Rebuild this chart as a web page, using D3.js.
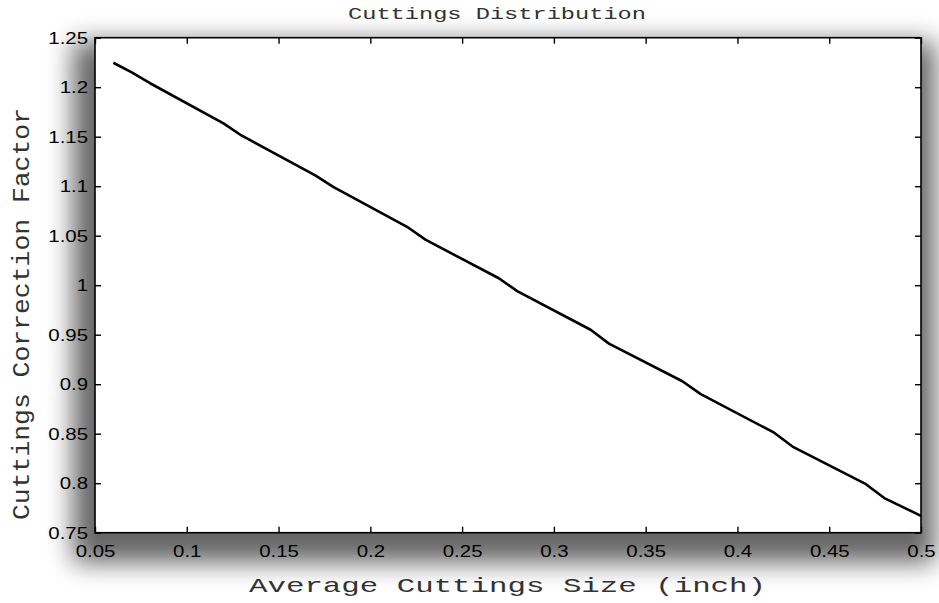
<!DOCTYPE html>
<html>
<head>
<meta charset="utf-8">
<script src="https://cdn.jsdelivr.net/npm/d3@7"></script>
<style>
  html, body { margin: 0; padding: 0; background: #fff; }
  svg { display: block; }
</style>
</head>
<body>
<svg id="chart" width="939" height="603"></svg>
<script>
// ---- data ----
const sizes   = [0.06, 0.07, 0.08, 0.12, 0.13, 0.17, 0.18, 0.22, 0.23, 0.27, 0.28, 0.32, 0.33, 0.37, 0.38, 0.42, 0.43, 0.47, 0.48, 0.50];
const factors = [1.2247, 1.215, 1.204, 1.1635, 1.151, 1.111, 1.099, 1.059, 1.046, 1.007, 0.994, 0.955, 0.941, 0.903, 0.890, 0.851, 0.837, 0.799, 0.785, 0.767];
const xTicks = [0.05, 0.1, 0.15, 0.2, 0.25, 0.3, 0.35, 0.4, 0.45, 0.5];
const yTicks = [0.75, 0.8, 0.85, 0.9, 0.95, 1, 1.05, 1.1, 1.15, 1.2, 1.25];
const titleText = "Cuttings Distribution";
const xLabel = "Average Cuttings Size (inch)";
const yLabel = "Cuttings Correction Factor";

const W = 939, H = 603;
const m = { left: 95, top: 37.7, right: 939 - 921, bottom: 603 - 532.7 };
const pw = W - m.left - m.right, ph = H - m.top - m.bottom;

const svg = d3.select("#chart");
const defs = svg.append("defs");
const f = defs.append("filter").attr("id", "shadow")
  .attr("x", "-20%").attr("y", "-20%").attr("width", "140%").attr("height", "140%");
f.append("feGaussianBlur").attr("stdDeviation", 13);

// drop shadow
svg.append("rect")
  .attr("x", m.left - 22).attr("y", m.top + 4)
  .attr("width", pw + 36).attr("height", ph + 26)
  .attr("fill", "#000").attr("opacity", 0.6)
  .attr("filter", "url(#shadow)");

const g = svg.append("g").attr("transform", `translate(${m.left},${m.top})`);
g.append("rect").attr("width", pw).attr("height", ph).attr("fill", "#fff");

const x = d3.scaleLinear().domain([0.05, 0.5]).range([0, pw]);
const y = d3.scaleLinear().domain([0.75, 1.25]).range([ph, 0]);

const fmt = d => String(+d.toFixed(2));
const tickFont = "'Liberation Sans', Arial, sans-serif";

function styleAxis(sel) {
  sel.select(".domain").remove();
  sel.selectAll(".tick line").attr("stroke", "#000").attr("stroke-width", 1.4);
}

// bottom axis (ticks inward)
const xb = g.append("g").attr("transform", `translate(0,${ph})`)
  .call(d3.axisBottom(x).tickValues(xTicks).tickSize(-6).tickPadding(16).tickFormat(fmt));
styleAxis(xb);
xb.selectAll(".tick text").attr("font-family", tickFont).attr("font-size", 17).attr("fill", "#000")
  .attr("dy", "0.71em").attr("y", 12);

// top axis
const xt = g.append("g")
  .call(d3.axisTop(x).tickValues(xTicks).tickSize(-6).tickFormat(""));
styleAxis(xt);

// left axis
const yl = g.append("g")
  .call(d3.axisLeft(y).tickValues(yTicks).tickSize(-6).tickPadding(13).tickFormat(fmt));
styleAxis(yl);
yl.selectAll(".tick text").attr("font-family", tickFont).attr("font-size", 17).attr("fill", "#000")
  .attr("x", -7);

// right axis
const yr = g.append("g").attr("transform", `translate(${pw},0)`)
  .call(d3.axisRight(y).tickValues(yTicks).tickSize(-6).tickFormat(""));
styleAxis(yr);

// widen tick labels slightly to match reference proportions
svg.selectAll(".tick text").each(function () {
  const t = d3.select(this);
  const w = this.getComputedTextLength();
  t.attr("textLength", w * 1.2).attr("lengthAdjust", "spacingAndGlyphs");
});

// frame
g.append("rect").attr("width", pw).attr("height", ph)
  .attr("fill", "none").attr("stroke", "#000").attr("stroke-width", 1.6);

// line
const line = d3.line().x((d, i) => x(sizes[i])).y(d => y(d));
g.append("path").datum(factors)
  .attr("d", line)
  .attr("fill", "none").attr("stroke", "#000").attr("stroke-width", 2.6)
  .attr("stroke-linejoin", "round");

const monoFont = "'Courier New', 'Liberation Mono', monospace";

// title
svg.append("text")
  .attr("x", 497).attr("y", 19)
  .attr("text-anchor", "middle")
  .attr("font-family", monoFont).attr("font-size", 17).attr("fill", "#333")
  .attr("textLength", 298).attr("lengthAdjust", "spacingAndGlyphs")
  .text(titleText);

// x label
svg.append("text")
  .attr("x", 507.5).attr("y", 592)
  .attr("text-anchor", "middle")
  .attr("font-family", monoFont).attr("font-size", 21).attr("fill", "#333")
  .attr("textLength", 517).attr("lengthAdjust", "spacingAndGlyphs")
  .text(xLabel);

// y label
svg.append("text")
  .attr("transform", "translate(29,314) rotate(-90)")
  .attr("text-anchor", "middle")
  .attr("font-family", monoFont).attr("font-size", 23).attr("fill", "#333")
  .attr("textLength", 412).attr("lengthAdjust", "spacingAndGlyphs")
  .text(yLabel);
</script>
</body>
</html>
